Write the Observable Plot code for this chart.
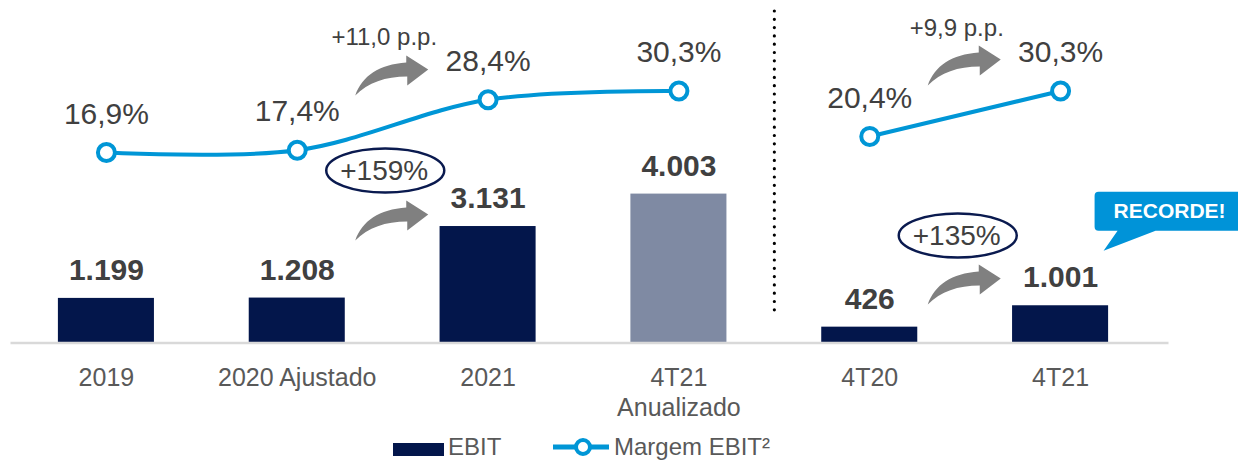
<!DOCTYPE html>
<html>
<head>
<meta charset="utf-8">
<script src="https://cdn.jsdelivr.net/npm/d3@7"></script>
<script src="https://cdn.jsdelivr.net/npm/@observablehq/plot@0.6"></script>
<style>
  body { margin: 0; background: #fff; font-family: "Liberation Sans", Arial, sans-serif; }
  #wrap { position: relative; width: 1238px; height: 461px; overflow: hidden; }
  #legend { position: absolute; top: 432px; left: 0; width: 1238px; height: 29px; color: #595959; font-size: 24px; }
  #legend .item { position: absolute; top: 0; height: 29px; line-height: 29px; }
</style>
</head>
<body>
<div id="wrap">
  <div id="chart"></div>
  <div id="legend">
    <div class="item" style="left:393px;"><div style="position:absolute;top:11px;left:0;width:51px;height:13px;background:#03164B;"></div></div>
    <div class="item" style="left:448px;">EBIT</div>
    <div class="item" style="left:553px;"><svg width="56" height="29"><line x1="0" x2="56" y1="15" y2="15" stroke="#0096D6" stroke-width="5"/><circle cx="30" cy="15" r="7" fill="#fff" stroke="#0096D6" stroke-width="4"/></svg></div>
    <div class="item" style="left:614px;">Margem EBIT²</div>
  </div>
</div>
<script>
// ---- Data ----
const categories = ["2019", "2020 Ajustado", "2021", "4T21 Anualizado", "4T20", "4T21"];
const tickLabels = ["2019", "2020 Ajustado", "2021", "4T21\nAnualizado", "4T20", "4T21"];
const ebit = [1199, 1208, 3131, 4003, 426, 1001];
const margemEbit = [16.9, 17.4, 28.4, 30.3, 20.4, 30.3];
const periods = ["Ano", "Ano", "Ano", "Ano", "Trimestre", "Trimestre"];
const projectedCategory = "4T21 Anualizado";
const recordCategory = "4T21";

// annotations (y in the chart's EBIT units)
const changeNotes = [
  {x: "2020 Ajustado", y: 8226, text: "+11,0 p.p."},
  {x: "4T20", y: 8454, text: "+9,9 p.p."}
];
const growthNotes = [
  {x: "2020 Ajustado", y: 4637, text: "+159%"},
  {x: "4T20", y: 2890, text: "+135%"}
];
const arrowNotes = [
  {x: "2020 Ajustado", y: 6653},
  {x: "2020 Ajustado", y: 2755},
  {x: "4T20", y: 6922},
  {x: "4T20", y: 1035}
];

// ---- Helpers ----
const FONT = '"Liberation Sans", Arial, sans-serif';
const NAVY = "#03164B", GRAY_BAR = "#7F8AA3", BLUE = "#0096D6", TEXT = "#404040";
const loc = d3.formatLocale({decimal: ",", thousands: ".", grouping: [3], currency: ["R$", ""]});
const fmtInt = loc.format(",d");
const fmtPct = v => loc.format(".1f")(v) + "%";
// secondary (margin) axis mapped into the EBIT axis units
const marginToY = d3.scaleLinear().domain([0, 30.3]).range([3035, 3035 + 123.4 * 30.3]);

const data = categories.map((c, i) => ({key: c, ebit: ebit[i], margin: margemEbit[i], period: periods[i]}));

const ellipse = (rx, ry) => ({draw(ctx) {
  const k = 0.5523;
  ctx.moveTo(rx, 0);
  ctx.bezierCurveTo(rx, ry * k, rx * k, ry, 0, ry);
  ctx.bezierCurveTo(-rx * k, ry, -rx, ry * k, -rx, 0);
  ctx.bezierCurveTo(-rx, -ry * k, -rx * k, -ry, 0, -ry);
  ctx.bezierCurveTo(rx * k, -ry, rx, -ry * k, rx, 0);
  ctx.closePath();
}});
const curvedArrow = {draw(ctx) {
  ctx.moveTo(0, 0);
  ctx.bezierCurveTo(7, -20, 24, -31, 51, -33);
  ctx.lineTo(51, -40);
  ctx.lineTo(73, -26);
  ctx.lineTo(52, -10);
  ctx.lineTo(52, -19);
  ctx.bezierCurveTo(30, -19, 13, -13, 0, 0);
  ctx.closePath();
}};
const callout = {draw(ctx) {
  ctx.moveTo(38, -114);
  ctx.lineTo(220, -114);
  ctx.lineTo(220, -75);
  ctx.lineTo(95, -75);
  ctx.lineTo(43, -55);
  ctx.lineTo(57, -75);
  ctx.lineTo(38, -75);
  ctx.arcTo(34, -75, 34, -79, 4);
  ctx.lineTo(34, -110);
  ctx.arcTo(34, -114, 38, -114, 4);
  ctx.closePath();
}};

const chart = Plot.plot({
  width: 1238,
  height: 432,
  marginLeft: 10.5,
  marginRight: 82.5,
  marginTop: 0,
  marginBottom: 89.5,
  style: {fontFamily: FONT, color: "#595959", background: "transparent", overflow: "visible"},
  x: {type: "band", domain: categories, padding: 0, round: false, label: null},
  y: {domain: [0, 9207], axis: null},
  marks: [
    Plot.barY(data, {x: "key", y: "ebit", fill: d => d.key === projectedCategory ? GRAY_BAR : NAVY, insetLeft: 47.4, insetRight: 47.4}),
    Plot.ruleY([0], {stroke: "#D9D9D9", strokeWidth: 2.5, insetRight: -13}),
    Plot.axisX({tickSize: 0, tickPadding: 22, fontSize: 25, lineHeight: 1.2, label: null,
      tickFormat: k => tickLabels[categories.indexOf(k)]}),
    Plot.text(data, {x: "key", y: "ebit", text: d => fmtInt(d.ebit), dy: -28, fontSize: 30, fontWeight: "bold", fill: TEXT}),
    Plot.ruleX([projectedCategory], {x: () => "4T20", dx: -95.4, stroke: "#000", strokeWidth: 3.2, strokeDasharray: "0 8.3", strokeLinecap: "round", insetTop: 11, insetBottom: 25.5}),
    Plot.line(data, {x: "key", y: d => marginToY(d.margin), z: "period", stroke: BLUE, strokeWidth: 4, curve: "catmull-rom"}),
    Plot.dot(data, {x: "key", y: d => marginToY(d.margin), r: 8.5, stroke: BLUE, strokeWidth: 4, fill: "white"}),
    Plot.text(data, {x: "key", y: d => marginToY(d.margin), text: d => fmtPct(d.margin), dy: -38.5, fontSize: 30, fill: TEXT}),
    Plot.dot(arrowNotes, {x: "x", y: "y", dx: 58, symbol: curvedArrow, fill: "#808080", stroke: "none"}),
    Plot.text(changeNotes, {x: "x", y: "y", text: "text", dx: 87, fontSize: 24, fill: TEXT}),
    Plot.dot(growthNotes, {x: "x", y: "y", dx: 88, symbol: ellipse(59, 22), fill: "none", stroke: "#0A1A4F", strokeWidth: 2.5}),
    Plot.text(growthNotes, {x: "x", y: "y", text: "text", dx: 87, dy: 1, fontSize: 28, fill: TEXT}),
    Plot.dot(data.filter(d => d.key === recordCategory), {x: "key", y: "ebit", symbol: callout, fill: "#0093D8", stroke: "none"}),
    Plot.text(data.filter(d => d.key === recordCategory), {x: "key", y: "ebit", text: () => "RECORDE!", dx: 109, dy: -94, fontSize: 21, fontWeight: "bold", fill: "white"})
  ]
});
document.getElementById("chart").appendChild(chart);
</script>
</body>
</html>
